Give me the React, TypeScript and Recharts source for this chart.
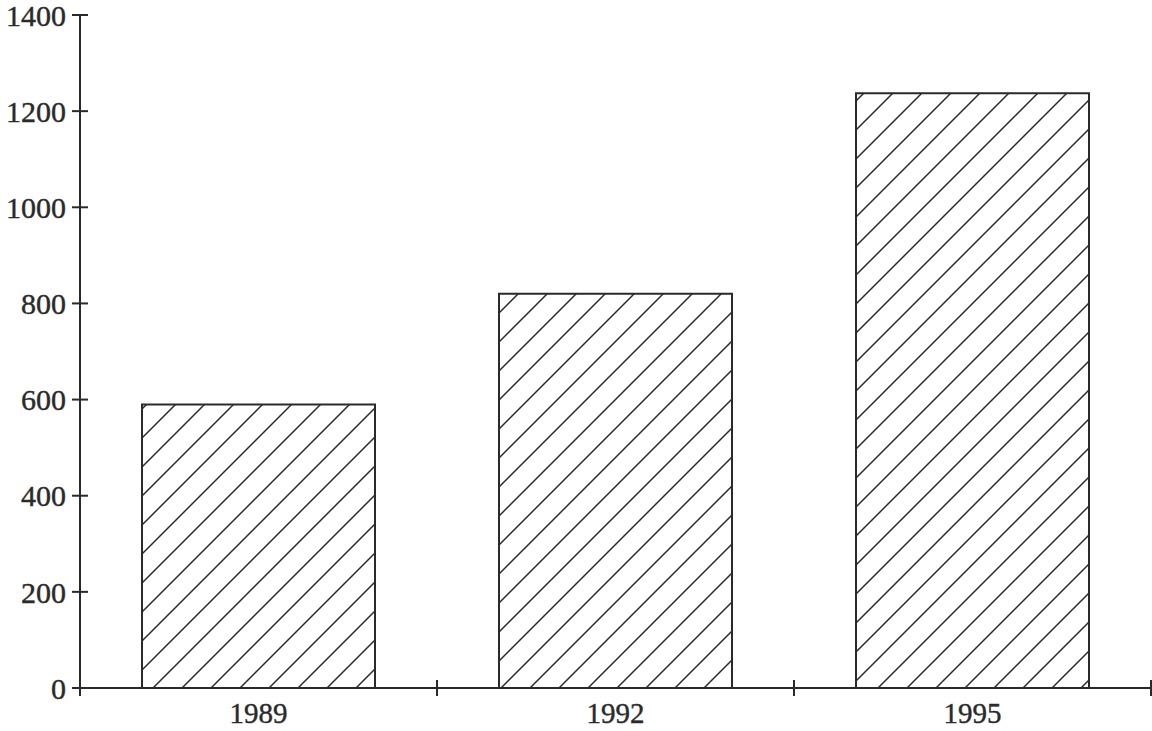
import { BarChart, Bar, XAxis, YAxis } from 'recharts';

const years = ['1989', '1992', '1995'];
const values = [590, 820, 1237];
const yTicks = [0, 200, 400, 600, 800, 1000, 1200, 1400];

const data = years.map((year, i) => ({ year, value: values[i] }));

const INK = '#2a2a2a';
const FONT = '"Liberation Serif", "DejaVu Serif", serif';

function YTick(props: any) {
  const { x, y, payload } = props;
  return (
    <g>
      <line x1={x + 6} x2={x + 22} y1={y} y2={y} stroke={INK} strokeWidth={2} />
      <text x={x} y={y} dy="0.355em" textAnchor="end" fontFamily={FONT} fontSize={30} fill={INK} stroke={INK} strokeWidth={0.4}>
        {payload.value}
      </text>
    </g>
  );
}

function XTick(props: any) {
  const { x, y, payload } = props;
  const axisY = y - 15;
  const half = payload.offset || 0;
  return (
    <g>
      <line x1={x - half} x2={x - half} y1={axisY - 8} y2={axisY + 8} stroke={INK} strokeWidth={2} />
      <line x1={x + half} x2={x + half} y1={axisY - 8} y2={axisY + 8} stroke={INK} strokeWidth={2} />
      <text x={x} y={y} dy="0.7em" textAnchor="middle" fontFamily={FONT} fontSize={29} fill={INK} stroke={INK} strokeWidth={0.4}>
        {payload.value}
      </text>
    </g>
  );
}

export default function App() {
  return (
    <div style={{ position: 'absolute', left: 0, top: 0, width: 1152, height: 731, overflow: 'hidden', background: '#fff' }}>
      <BarChart width={1152} height={731} data={data} margin={{ top: 15, right: 1, left: 0, bottom: 0 }}>
        <defs>
          <pattern id="hatch" patternUnits="userSpaceOnUse" width={29} height={29}>
            <path d="M0,29 L29,0 M-7,7 L7,-7 M22,36 L36,22" stroke={INK} strokeWidth={1.5} />
          </pattern>
        </defs>
        <XAxis
          dataKey="year"
          height={43}
          tickSize={8}
          tickMargin={7}
          tickLine={false}
          axisLine={{ stroke: INK, strokeWidth: 2 }}
          tick={<XTick />}
          interval={0}
        />
        <YAxis
          width={80}
          domain={[0, 1400]}
          ticks={yTicks}
          tickSize={8}
          tickMargin={6}
          tickLine={false}
          axisLine={{ stroke: INK, strokeWidth: 2 }}
          tick={<YTick />}
          interval={0}
        />
        <Bar dataKey="value" barSize={233} fill="url(#hatch)" stroke={INK} strokeWidth={2} isAnimationActive={false} />
      </BarChart>
    </div>
  );
}
